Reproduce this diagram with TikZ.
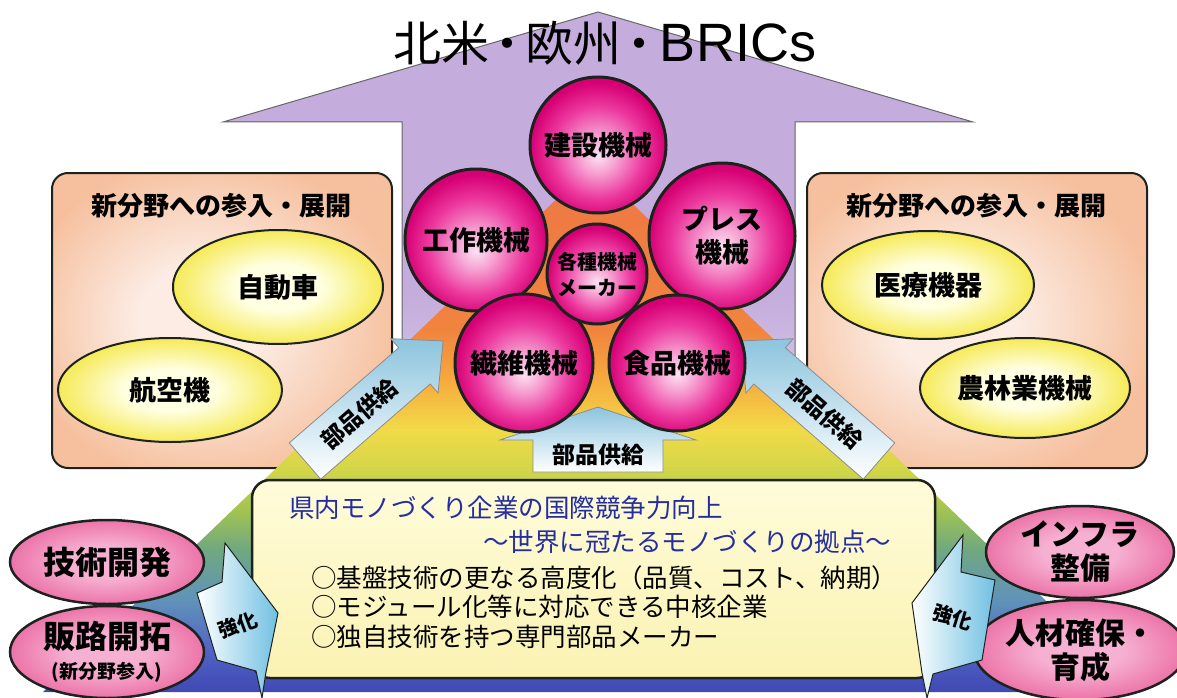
\documentclass[tikz,border=0pt]{standalone}
\usepackage{fontspec}
\setmainfont{Noto Sans CJK JP}
\newfontfamily\latinsans{Liberation Sans}
\usetikzlibrary{shapes.geometric}

\definecolor{lav1}{RGB}{196,172,220}
\definecolor{lav2}{RGB}{228,218,240}
\definecolor{pb1}{RGB}{64,72,180}
\definecolor{pb2}{RGB}{80,100,196}
\definecolor{pb3}{RGB}{96,146,186}
\definecolor{pb4}{RGB}{112,168,128}
\definecolor{pb5}{RGB}{162,196,80}
\definecolor{pb6}{RGB}{210,214,72}
\definecolor{pb7}{RGB}{242,218,72}
\definecolor{pb8}{RGB}{246,170,62}
\definecolor{pb9}{RGB}{240,132,62}
\definecolor{pb10}{RGB}{238,118,70}
\definecolor{sp1}{RGB}{252,226,242}
\definecolor{sp2}{RGB}{246,160,210}
\definecolor{sp3}{RGB}{236,56,158}
\definecolor{sp4}{RGB}{214,0,116}
\definecolor{ye1}{RGB}{255,255,226}
\definecolor{ye2}{RGB}{246,234,88}
\definecolor{pc1}{RGB}{252,236,228}
\definecolor{pc2}{RGB}{246,192,158}
\definecolor{pk1}{RGB}{246,176,210}
\definecolor{pk2}{RGB}{236,116,168}
\definecolor{bx1}{RGB}{255,252,218}
\definecolor{bx2}{RGB}{250,242,178}
\definecolor{ab1}{RGB}{140,196,222}
\definecolor{kb1}{RGB}{112,192,226}
\definecolor{navytxt}{RGB}{36,46,160}
\definecolor{edge}{RGB}{30,34,30}

\pgfdeclareverticalshading{lavsh}{100bp}{color(0bp)=(lav2); color(25bp)=(lav2); color(45bp)=(lav1); color(100bp)=(lav1)}
\pgfdeclareverticalshading{pyrshade}{100bp}{color(0bp)=(pb1); color(25bp)=(pb1); color(29bp)=(pb2); color(33.7bp)=(pb3); color(38.5bp)=(pb4); color(42.3bp)=(pb5); color(46.1bp)=(pb6); color(49.9bp)=(pb7); color(54.6bp)=(pb8); color(59.3bp)=(pb9); color(75bp)=(pb10); color(100bp)=(pb10)}
\pgfdeclareradialshading{sphere}{\pgfpoint{0bp}{-4bp}}{color(0bp)=(sp1); color(7bp)=(sp2); color(17bp)=(sp3); color(25bp)=(sp4); color(50bp)=(sp4)}
\pgfdeclareradialshading{yellsh}{\pgfpointorigin}{color(0bp)=(ye1); color(10bp)=(ye1); color(25bp)=(ye2); color(50bp)=(ye2)}
\pgfdeclareradialshading{peach}{\pgfpoint{-4bp}{0bp}}{color(0bp)=(pc1); color(9bp)=(pc1); color(28bp)=(pc2); color(50bp)=(pc2)}
\pgfdeclareradialshading{pinksh}{\pgfpointorigin}{color(0bp)=(pk1); color(10bp)=(pk1); color(25bp)=(pk2); color(50bp)=(pk2)}

\newcommand\fz[2]{\fontsize{#1}{#2}\selectfont}

\tikzset{
  sidebox/.style={draw=edge, line width=2pt, rounded corners=16pt, shade, shading=peach,
    minimum width=340pt, minimum height=295pt, inner sep=0pt},
  boxtitle/.style={font=\fz{26}{30}\bfseries, inner sep=0pt},
  yellip/.style={ellipse, draw=edge, line width=2pt, shade, shading=yellsh, inner sep=0pt,
    font=\fz{27}{31}\bfseries},
  ball/.style={circle, draw=edge, line width=3pt, shade, shading=sphere, inner sep=0pt,
    align=center, font=\fz{27}{33}\bfseries},
  pellip/.style={ellipse, draw=edge, line width=2.5pt, shade, shading=pinksh, inner sep=0pt,
    align=center, font=\fz{32}{36}\bfseries},
  supply/.style={draw=black!45, line width=0.8pt, top color=ab1, bottom color=white},
  kyoka/.style={draw=edge, line width=1pt, left color=white, right color=kb1},
  btxt/.style={anchor=west, inner sep=0pt, font=\fz{25.5}{30}}
}

\begin{document}
\begin{tikzpicture}[x=1pt,y=-1pt]
\useasboundingbox (0,0) rectangle (1177,698);

% big lavender arrow
\shade[shading=lavsh, draw=black!60, line width=1pt]
  (598,12) -- (973,122) -- (795,122) -- (795,480) -- (402,480) -- (402,122) -- (223,122) -- cycle;

% side boxes
\node[sidebox] (lbox) at (222,320.5) {};
\node[sidebox] (rbox) at (977,320.5) {};

% pyramid
\shade[shading=pyrshade] (592,165) -- (1141,692) -- (43,692) -- cycle;

% side box contents
\node[boxtitle] (ltitle) at (221,206) {新分野への参入・展開};
\node[boxtitle] (rtitle) at (976,206) {新分野への参入・展開};
\node[yellip, minimum width=210pt, minimum height=114pt] (car) at (278,287) {自動車};
\node[yellip, minimum width=224pt, minimum height=104pt] (air) at (170,390) {航空機};
\node[yellip, minimum width=212pt, minimum height=108pt] (med) at (928,285) {医療機器};
\node[yellip, minimum width=210pt, minimum height=100pt] (agr) at (1025,388) {農林業機械};

% centre box
\node[draw=edge, line width=2.5pt, rounded corners=18pt, top color=bx1, bottom color=bx2,
  minimum width=683pt, minimum height=198pt, inner sep=0pt] (cbox) at (593.5,579) {};
\node[btxt, text=navytxt] (t1) at (289,508) {県内モノづくり企業の国際競争力向上};
\node[btxt, text=navytxt] (t2) at (483,542) {～世界に冠たるモノづくりの拠点～};
\node[btxt] (t3) at (311,578) {○基盤技術の更なる高度化（品質、コスト、納期）};
\node[btxt] (t4) at (311,607) {○モジュール化等に対応できる中核企業};
\node[btxt] (t5) at (311,637) {○独自技術を持つ専門部品メーカー};

% parts-supply arrows
\begin{scope}[shift={(305,461)}, rotate=41]
  \shade[supply] (0,-24) -- (145,-24) -- (145,-36) -- (183,0) -- (145,36) -- (145,24) -- (0,24) -- cycle;
  \coordinate (lsup) at (72,0);
\end{scope}
\node[rotate=41, font=\fz{23}{26}\bfseries, inner sep=0pt] (lsupt) at (lsup) {部品供給};
\begin{scope}[shift={(879,461)}, rotate=139]
  \shade[supply] (0,-24) -- (145,-24) -- (145,-36) -- (183,0) -- (145,36) -- (145,24) -- (0,24) -- cycle;
  \coordinate (rsup) at (72,0);
\end{scope}
\node[rotate=-41, font=\fz{23}{26}\bfseries, inner sep=0pt] (rsupt) at (rsup) {部品供給};
\shade[supply] (533,472) -- (533,440) -- (500,440) -- (598,407) -- (696,440) -- (663,440) -- (663,472) -- cycle;
\node[font=\fz{23}{26}\bfseries, inner sep=0pt] (msupt) at (598,455) {部品供給};

% machine balls
\node[ball, minimum size=136pt] (b1) at (598,145) {建設機械};
\node[ball, minimum size=142pt] (b2) at (476,240) {工作機械};
\node[ball, minimum size=146pt] (b3) at (722,236) {プレス\\機械};
\node[ball, minimum size=138pt] (b4) at (524,363) {繊維機械};
\node[ball, minimum size=136pt] (b5) at (677,363) {食品機械};
\node[ball, minimum size=100pt, font=\fz{20}{26}\bfseries] (b6) at (597,274) {各種機械\\メーカー};

% bottom pink ellipses
\node[pellip, minimum width=194pt, minimum height=84pt] (tech) at (107,562) {技術開発};
\node[pellip, minimum width=194pt, minimum height=92pt] (sales) at (107,652)
  {販路開拓\\[-6pt]{\fz{19}{22}(新分野参入)}};
\node[pellip, minimum width=188pt, minimum height=92pt, font=\fz{30}{34}\bfseries] (infra) at (1080,552) {インフラ\\整備};
\node[pellip, minimum width=196pt, minimum height=100pt, font=\fz{30}{34}\bfseries] (hr) at (1080,650) {人材確保・\\育成};

% strengthening arrows
\shade[kyoka] (225,543) -- (222,582) -- (197,593) -- (217,660) -- (256,671) -- (262,698)
  -- (266,672) -- (278,613) -- cycle;
\node[rotate=20, font=\fz{20}{24}\bfseries, inner sep=0pt] (kl) at (238,625) {強化};
\shade[kyoka] (963,535) -- (961,572) -- (995,580) -- (982,660) -- (933,674) -- (927,698)
  -- (922,673) -- (912,603) -- cycle;
\node[rotate=-17, font=\fz{20}{24}\bfseries, inner sep=0pt] (kr) at (953,617) {強化};

% title
\node[inner sep=0pt] (title) at (605,43)
  {\fz{48}{50}北米\kern-6pt・\kern-6pt欧州\kern-6pt・\kern-4pt{\latinsans\fz{54}{54}BRICs}};
\end{tikzpicture}
\end{document}
